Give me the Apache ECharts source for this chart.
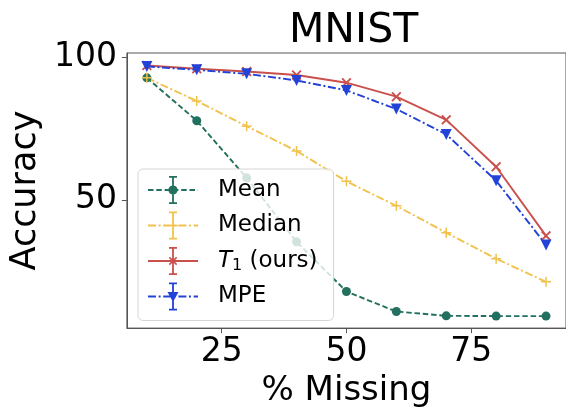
<!DOCTYPE html>
<html>
<head>
<meta charset="utf-8">
<script src="https://cdn.jsdelivr.net/npm/echarts@6/dist/echarts.min.js"></script>
<style>html,body{margin:0;padding:0;background:#fff}#c{width:566px;height:413px}</style>
</head>
<body>
<div id="c"></div>
<script>
// ---- data ----
const missing = [10, 20, 30, 40, 50, 60, 70, 80, 90];
const meanAcc = [92.7, 77.7, 57.7, 35.3, 17.9, 10.9, 9.4, 9.3, 9.3];
const medianAcc = [92.7, 84.6, 75.8, 67.1, 56.5, 47.9, 38.5, 29.4, 21.3];
const t1Acc = [97.0, 95.9, 94.9, 93.7, 91.0, 86.1, 78.0, 61.6, 37.4];
const mpeAcc = [96.7, 95.5, 94.1, 91.8, 88.3, 81.8, 72.9, 56.7, 34.2];
const xTicks = [25, 50, 75];
const yTicks = [50, 100];
const seriesNames = ['Mean', 'Median', 'T1 (ours)', 'MPE'];

const FONT = 'DejaVu Sans';
const colors = { mean: '#22705d', median: '#f1c24c', t1: '#c9504b', mpe: '#2342d8' };

// ---- icon path helpers ----
function rect(x, y, w, h) {
  return `M${x},${y}L${x + w},${y}L${x + w},${y + h}L${x},${y + h}Z`;
}
function poly(pts) {
  return 'M' + pts.map(p => p[0].toFixed(2) + ',' + p[1].toFixed(2)).join('L') + 'Z';
}
function circlePts(cx, cy, r) {
  const pts = [];
  for (let i = 0; i < 20; i++) {
    const a = i / 20 * Math.PI * 2;
    pts.push([cx + r * Math.cos(a), cy + r * Math.sin(a)]);
  }
  return pts;
}
function plusPts(cx, cy, L, t, rot) {
  const h = t / 2;
  const base = [[-h, -L], [h, -L], [h, -h], [L, -h], [L, h], [h, h], [h, L], [-h, L], [-h, h], [-L, h], [-L, -h], [-h, -h]];
  const c = Math.cos(rot), s = Math.sin(rot);
  return base.map(p => [cx + p[0] * c - p[1] * s, cy + p[0] * s + p[1] * c]);
}
function dashLine(pattern, W, y, t) {
  let out = '';
  if (!pattern) return rect(0, y - t / 2, W, t);
  let x = 0, i = 0;
  while (x < W) {
    const len = pattern[i % pattern.length];
    if (i % 2 === 0) out += rect(x, y - t / 2, Math.min(len, W - x), t);
    x += len; i++;
  }
  return out;
}
function legendIcon(pattern, marker) {
  const W = 50, H = 28, cx = 25, cy = 14, t = 1.8;
  let p = dashLine(pattern, W, cy, t);
  // error bar
  p += rect(cx - t / 2, 0, t, H);
  p += rect(cx - 4, 0, 8, t);
  p += rect(cx - 4, H - t, 8, t);
  if (marker === 'circle') p += poly(circlePts(cx, cy, 4.6));
  if (marker === 'plus') p += poly(plusPts(cx, cy, 5, 1.6, 0));
  if (marker === 'x') p += poly(plusPts(cx, cy, 5.2, 1.6, Math.PI / 4));
  if (marker === 'tri') p += poly([[cx - 5.5, cy - 4.5], [cx + 5.5, cy - 4.5], [cx, cy + 5.5]]);
  // invisible point to extend box (spacing between icon and text)
  p += 'M65,14L65,14Z';
  return 'path://' + p;
}
const plusSymbol = 'path://' + poly(plusPts(5, 5, 5, 1.5, 0));
const xSymbol = 'path://' + poly(plusPts(5, 5, 5, 1.5, Math.PI / 4));

const dashMean = [5.5, 2.8];
const dashDot = [8, 2.6, 2, 2.6];

function pairs(vals) { return missing.map((x, i) => [x, vals[i]]); }

const chart = echarts.init(document.getElementById('c'), null, { renderer: 'canvas' });
chart.setOption({
  animation: false,
  backgroundColor: '#fff',
  textStyle: { fontFamily: FONT },
  title: {
    text: 'MNIST', left: 284, top: 6,
    textStyle: { fontFamily: FONT, fontSize: 41, fontWeight: 'normal', color: '#000' }
  },
  grid: { left: 126, top: 53, right: -7, bottom: 80, show: true, borderColor: '#555', borderWidth: 1, backgroundColor: 'transparent' },
  xAxis: {
    type: 'value', min: 6, max: 94,
    name: '% Missing', nameLocation: 'middle', nameGap: 43,
    nameTextStyle: { fontFamily: FONT, fontSize: 34, color: '#000' },
    axisLine: { show: true, lineStyle: { color: '#555', width: 1 } },
    axisTick: { show: true, customValues: xTicks, length: 5, lineStyle: { color: '#555' } },
    axisLabel: { customValues: xTicks, margin: 8, fontFamily: FONT, fontSize: 33, color: '#000' },
    splitLine: { show: false }
  },
  yAxis: {
    type: 'value', min: 5.1, max: 101.4,
    name: 'Accuracy', nameLocation: 'middle', nameGap: 75, nameRotate: 90,
    nameTextStyle: { fontFamily: FONT, fontSize: 35, color: '#000' },
    axisLine: { show: true, lineStyle: { color: '#555', width: 1 } },
    axisTick: { show: true, customValues: yTicks, length: 5, lineStyle: { color: '#555' } },
    axisLabel: { customValues: yTicks, margin: 10, fontFamily: FONT, fontSize: 33, color: '#000' },
    splitLine: { show: false }
  },
  legend: {
    orient: 'vertical', left: 138, top: 169,
    padding: [7, 16, 10, 10],
    itemWidth: 65, itemHeight: 28, itemGap: 7.5,
    backgroundColor: 'rgba(255,255,255,0.8)', borderColor: '#d6d6d6', borderWidth: 1, borderRadius: 5,
    itemStyle: { borderWidth: 0 },
    textStyle: {
      fontFamily: FONT, fontSize: 23, color: '#000',
      rich: {
        i: { fontFamily: FONT, fontSize: 23, fontStyle: 'italic', color: '#000' },
        s: { fontFamily: FONT, fontSize: 16, color: '#000', padding: [10, 0, 0, 0] }
      }
    },
    formatter: function (n) { return n === 'T1 (ours)' ? '{i|T}{s|1} (ours)' : n; },
    data: [
      { name: seriesNames[0], icon: legendIcon(dashMean, 'circle') },
      { name: seriesNames[1], icon: legendIcon(dashDot, 'plus') },
      { name: seriesNames[2], icon: legendIcon(null, 'x') },
      { name: seriesNames[3], icon: legendIcon(dashDot, 'tri') }
    ]
  },
  series: [
    {
      name: seriesNames[0], type: 'line', data: pairs(meanAcc),
      symbol: 'circle', symbolSize: 9,
      lineStyle: { color: colors.mean, width: 1.9, type: dashMean },
      itemStyle: { color: colors.mean }
    },
    {
      name: seriesNames[1], type: 'line', data: pairs(medianAcc),
      symbol: plusSymbol, symbolSize: 10,
      lineStyle: { color: colors.median, width: 1.9, type: dashDot },
      itemStyle: { color: colors.median }
    },
    {
      name: seriesNames[2], type: 'line', data: pairs(t1Acc),
      symbol: xSymbol, symbolSize: 10,
      lineStyle: { color: colors.t1, width: 1.9, type: 'solid' },
      itemStyle: { color: colors.t1 }
    },
    {
      name: seriesNames[3], type: 'line', data: pairs(mpeAcc),
      symbol: 'triangle', symbolRotate: 180, symbolSize: 11,
      lineStyle: { color: colors.mpe, width: 1.9, type: dashDot },
      itemStyle: { color: colors.mpe }
    }
  ]
});
</script>
</body>
</html>
